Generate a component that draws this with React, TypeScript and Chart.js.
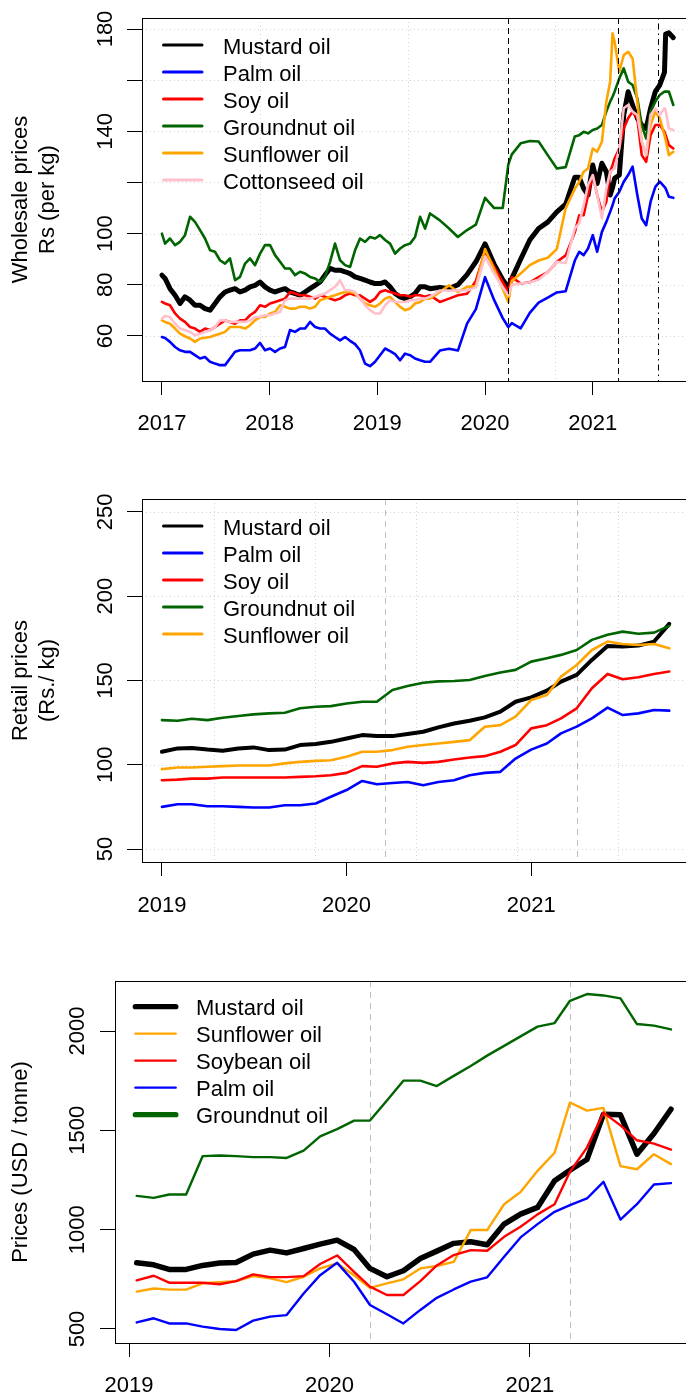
import React, { useEffect, useRef } from "react";
import { Chart, registerables, ChartConfiguration, Plugin } from "chart.js";

Chart.register(...registerables);

const FONT = '"Liberation Sans", Arial, Helvetica, sans-serif';

// ---------- panel 1: wholesale prices, Rs per kg ----------
// 2017 to mid 2019 read at ~17 day steps (decimal years)
const wholesaleEarlyYears = [
  2017.0, 2017.029, 2017.075, 2017.122, 2017.168, 2017.214, 2017.261, 2017.307, 2017.354, 2017.4,
  2017.447, 2017.493, 2017.539, 2017.586, 2017.632, 2017.679, 2017.725, 2017.772, 2017.818, 2017.864,
  2017.911, 2017.957, 2018.004, 2018.05, 2018.097, 2018.143, 2018.189, 2018.236, 2018.282, 2018.329,
  2018.375, 2018.422, 2018.468, 2018.514, 2018.561, 2018.607, 2018.654, 2018.7, 2018.747, 2018.793,
  2018.839, 2018.886, 2018.932, 2018.979, 2019.025, 2019.072, 2019.118, 2019.165, 2019.211, 2019.257,
  2019.304, 2019.35, 2019.397, 2019.443, 2019.489,
];
// then monthly / half monthly dates
const wholesaleDates = [
  "2019-08-01", "2019-09-01", "2019-10-01", "2019-11-01", "2019-12-01",
  "2020-01-01", "2020-02-01", "2020-03-01", "2020-03-20", "2020-04-01", "2020-05-01",
  "2020-06-01", "2020-07-01", "2020-08-01", "2020-09-01", "2020-10-01", "2020-11-01",
  "2020-11-16", "2020-12-01", "2020-12-16", "2021-01-01", "2021-01-16", "2021-02-01",
  "2021-02-16", "2021-03-01", "2021-03-09", "2021-03-16", "2021-04-01", "2021-04-16",
  "2021-05-01", "2021-05-16", "2021-06-01", "2021-06-16", "2021-07-01", "2021-07-16",
  "2021-08-01", "2021-08-16", "2021-09-01", "2021-09-05", "2021-09-16", "2021-10-01",
];
const wholesaleMustard = [
  83.8, 82.5, 78.5, 75.9, 72.7, 75.3, 74, 72, 72, 70.7, 70.1, 72.7, 75.3, 77.2, 77.9, 78.5, 77.2, 77.9, 79.2, 79.8,
  81.1, 79.2, 77.9, 77.2, 77.9, 78.5, 77.2, 76.6, 75.9, 77.2, 78.5, 79.8, 81.1, 83.8, 86.4, 85.7, 85.7, 85.1, 84.4, 83.1,
  82.5, 81.8, 81.1, 80.5, 80.5, 81.1, 79.2, 76.6, 75.3, 74.6, 75.3, 76.6, 79.2, 79.2, 78.5,
  79, 78.5, 80, 84, 89,
  96, 88, 82, 79, 82.5, 90, 97.5, 102, 104.5, 108.5, 111.5, 122,
  122, 117.7, 115.1, 126.8, 119.6, 127.5, 124.2, 115.1, 118, 121.6, 122.9, 146.4,
  155.5, 150.3, 145.1, 142.5, 141.1, 149, 155.5, 158.1, 163, 178, 178.5, 176.6,
];
const wholesalePalm = [
  59.6, 59.2, 57.7, 55.7, 54.4, 53.8, 53.8, 52.5, 51.2, 51.8, 49.9, 49.2, 48.6, 48.6, 51.2, 53.8, 54.4, 54.4, 54.4, 55.1,
  57.3, 54.4, 55.1, 53.8, 55.1, 55.7, 62.3, 61.6, 62.9, 62.9, 65.5, 63.5, 62.9, 62.9, 60.9, 59.6, 58.3, 59.6, 58.1, 56.8,
  54.4, 49.2, 48.2, 49.9, 52.5, 55.1, 54.1, 52.9, 50.5, 53.1, 52.5, 51.2, 50.5, 49.9, 49.9,
  54.3, 55, 54.3, 64.8, 70.5,
  83, 74, 67, 63.5, 65, 63, 69, 73, 75, 77, 77.5, 89.5,
  92.9, 91.6, 94.2, 99.4, 92.9, 100.7, 104.6, 108.5, 111.1, 113.7, 116.4, 120.3,
  122.9, 126.2, 115.1, 105.9, 103.3, 112.5, 118.3, 120.3, 118.3, 117.7, 114.4, 114,
];
const wholesaleSoy = [
  73.3, 72.7, 72, 68.8, 66.8, 65.5, 63.5, 62.9, 61.6, 62.9, 62.3, 63.5, 64.8, 66.1, 65.5, 64.8, 66.1, 66.1, 68.1, 69.4,
  72, 71.4, 72.7, 73.3, 74, 74.6, 77.2, 76.6, 75.9, 75.9, 75.3, 74.6, 75.9, 75.3, 74.6, 74, 74.6, 75.9, 76.6, 75.9,
  75.9, 74.6, 73.3, 74.6, 77.2, 77.9, 77.2, 76.6, 75.9, 75.9, 75.3, 75.9, 75.9, 75.3, 75.9,
  73.3, 74.6, 75.9, 76.5, 81.5,
  93, 87, 81, 77, 83, 80.5, 81, 83, 85, 89, 91.5, 100.5,
  107.2, 107.2, 115.1, 122.9, 115.1, 108.5, 112.5, 124.2, 126.8, 129.4, 133.3, 141.1,
  145.1, 147.7, 145.1, 130.7, 128.1, 138.5, 142.5, 142.5, 139.8, 138.5, 134.6, 133.3,
];
const wholesaleGroundnut = [
  100, 96.1, 98.1, 95.5, 96.8, 99.4, 106.6, 104.6, 101.4, 98.1, 93.5, 92.9, 89.6, 88.3, 90.3, 81.8, 83.1, 88.3, 90.3, 87.7,
  92.2, 95.5, 95.5, 91.6, 89, 86.4, 86.4, 83.8, 85.1, 84.4, 83.1, 82.5, 81.1, 83.1, 89, 96.1, 89.6, 87.7, 87, 93.5,
  98.1, 96.8, 98.7, 98.1, 99.4, 97.5, 96.1, 92.2, 94.2, 95.5, 96.1, 98.7, 106.6, 102, 107.9,
  105.2, 102, 98.7, 101.4, 103.5,
  114, 110, 110, 127, 131, 135.3, 136.2, 136, 130.7, 125.5, 126, 138,
  138.5, 139.8, 139.2, 140.5, 141.1, 142.5, 147.7, 151.6, 153.5, 155.5, 160.7, 164.6,
  159.4, 158.1, 152.9, 142.5, 137.2, 147.7, 151.6, 154.2, 155.5, 155.5, 155.5, 150.3,
];
const wholesaleSunflower = [
  66.1, 65.5, 64.8, 62.9, 60.9, 59.9, 59, 57.7, 59, 59.3, 59.6, 60.3, 60.9, 61.6, 63.5, 63.5, 63.5, 62.9, 64.2, 66.1,
  67.4, 67.4, 68.8, 69.4, 72, 71.4, 70.7, 70.7, 71.4, 71.4, 70.7, 71.4, 74, 74.6, 75.3, 75.9, 76.6, 77.2, 77.2, 76.6,
  74.6, 72.7, 72, 71.4, 72.7, 74.6, 75.3, 73.3, 71.4, 70.1, 70.7, 72.7, 73.3, 74.6, 74.6,
  77.2, 79.8, 77.2, 79.2, 79.5,
  94, 86, 78.5, 73.3, 81.5, 84.4, 87.7, 89.5, 90.6, 94, 110, 117.5,
  120.3, 124.2, 125.5, 133.3, 132, 135.9, 151.6, 159.4, 178.3, 175, 163.3, 169.8,
  171.1, 168.5, 151.6, 136, 130.7, 142.5, 147.7, 145.1, 138.5, 136.6, 130.7, 132,
];
const wholesaleCottonseed = [
  66.8, 67.8, 67.4, 64.8, 62.9, 62.3, 61.6, 60.3, 60.9, 61.6, 62.3, 63.5, 66.1, 66.1, 65.5, 65.5, 65.5, 65.5, 66.1, 67.4,
  67.4, 68.1, 68.1, 68.8, 69.4, 74, 74.6, 74.6, 74.6, 74.6, 74.6, 75.3, 75.9, 76.6, 77.9, 79.2, 81.8, 77.9, 77.9, 77.2,
  74.6, 72, 70.1, 68.8, 68.8, 72, 74, 73.3, 73.3, 73.3, 74, 74, 74.6, 74.6, 75.3,
  77.8, 77.8, 77.8, 77.8, 79,
  91, 84.4, 79, 76, 80, 80.5, 81, 82, 85, 89, 88.5, 102,
  104, 111.1, 119, 122.9, 115.1, 105.9, 117.7, 124.2, 124.8, 125.5, 133.3, 149,
  150.3, 147.7, 146.4, 136, 130.7, 146.4, 149, 146.4, 149, 148.3, 141.1, 140.5,
];
const wholesaleYTicks = [60, 80, 100, 120, 140, 160, 180];
const wholesaleYLabels = [60, 80, 100, 140, 180];
const wholesaleXTicks = [2017, 2018, 2019, 2020, 2021];
const wholesaleGridX = ["2017-11-30", "2019-04-14", "2020-08-26"];
const wholesaleDashed = ["2020-03-18", "2021-03-29"];
const wholesaleDashDot = ["2021-08-10"];

// ---------- panel 2: retail prices, Rs per kg ----------
const retailDates = [
  "2019-01-01", "2019-02-01", "2019-03-01", "2019-04-01", "2019-05-01", "2019-06-01",
  "2019-07-01", "2019-08-01", "2019-09-01", "2019-10-01", "2019-11-01", "2019-12-01",
  "2020-01-01", "2020-02-01", "2020-03-01", "2020-04-01", "2020-05-01", "2020-06-01",
  "2020-07-01", "2020-08-01", "2020-09-01", "2020-10-01", "2020-11-01", "2020-12-01",
  "2021-01-01", "2021-02-01", "2021-03-01", "2021-04-01", "2021-05-01", "2021-06-01",
  "2021-07-01", "2021-08-01", "2021-09-01", "2021-10-01",
];
const retailMustard = [
  107.7, 109.7, 110, 109, 108.3, 109.7, 110.3, 108.7, 109, 111.7, 112.3, 113.6,
  115.6, 117.6, 117, 117, 118.2, 119.6, 122.2, 124.5, 126.1, 128.1, 131.5, 137.4,
  140, 144, 149.3, 153.3, 162.2, 170.5, 170.1, 170.7, 173.1, 183.6,
];
const retailPalm = [
  75, 76.6, 76.6, 75.4, 75.4, 75, 74.6, 74.6, 76, 76, 77, 81,
  85, 90.4, 88.4, 89.2, 89.8, 87.9, 89.8, 90.8, 93.8, 95.2, 95.8, 103.7,
  109, 112.6, 118.6, 122.6, 127.5, 133.9, 129.5, 130.5, 132.5, 132.1,
];
const retailSoy = [
  90.8, 91.2, 91.8, 91.8, 92.4, 92.4, 92.4, 92.4, 92.4, 92.8, 93.2, 93.8,
  95.2, 99.2, 98.8, 100.8, 101.7, 101.1, 101.7, 103.1, 104.3, 105.1, 107.7, 111.7,
  121.6, 123.5, 127.5, 133.5, 145.4, 153.9, 150.7, 151.9, 153.9, 155.3,
];
const retailGroundnut = [
  126.5, 126.1, 127.3, 126.5, 127.9, 128.9, 129.9, 130.5, 130.9, 133.5, 134.4, 134.8,
  136.4, 137.4, 137.4, 144.4, 146.7, 148.7, 149.5, 149.7, 150.3, 152.7, 154.7, 156.3,
  161.2, 163.2, 165.2, 168.1, 174.1, 177.1, 179, 177.7, 178.4, 182.4,
];
const retailSunflower = [
  97.4, 98.4, 98.4, 98.8, 99.2, 99.6, 99.6, 99.6, 100.8, 101.7, 102.3, 102.7,
  104.7, 107.7, 107.7, 108.7, 110.7, 111.7, 112.6, 113.6, 114.6, 122.6, 123.5, 128.5,
  138.4, 141.4, 152.3, 159.2, 168.1, 173.1, 171.7, 171.1, 171.7, 169.1,
];
const retailYTicks = [50, 100, 150, 200, 250];
const retailXTicks = [2019, 2020, 2021];
const retailGridX = ["2019-04-14", "2019-10-31", "2020-05-18", "2020-12-04", "2021-06-22"];
const retailDashed = ["2020-03-18", "2021-04-01"];

// ---------- panel 3: international prices, USD per tonne ----------
const usdDates = [
  "2019-01-15", "2019-02-15", "2019-03-15", "2019-04-15", "2019-05-15", "2019-06-15",
  "2019-07-15", "2019-08-15", "2019-09-15", "2019-10-15", "2019-11-15", "2019-12-15",
  "2020-01-15", "2020-02-15", "2020-03-15", "2020-04-15", "2020-05-15", "2020-06-15",
  "2020-07-15", "2020-08-15", "2020-09-15", "2020-10-15", "2020-11-15", "2020-12-15",
  "2021-01-15", "2021-02-15", "2021-03-15", "2021-04-15", "2021-05-15", "2021-06-15",
  "2021-07-15", "2021-08-15", "2021-09-15",
];
const usdMustard = [
  833, 823, 800, 800, 820, 832, 835, 877, 897, 883, 905, 927,
  947, 900, 805, 763, 793, 855, 892, 931, 939, 924, 1028, 1078,
  1112, 1246, 1299, 1353, 1581, 1578, 1380, 1484, 1606,
];
const usdSunflower = [
  688, 704, 698, 698, 730, 736, 741, 766, 755, 736, 763, 805,
  830, 770, 707, 730, 750, 805, 817, 838, 998, 998, 1128, 1190,
  1296, 1387, 1640, 1599, 1613, 1320, 1304, 1380, 1330,
];
const usdSoybean = [
  745, 768, 733, 733, 733, 725, 741, 775, 761, 761, 766, 827,
  870, 788, 713, 671, 671, 741, 820, 872, 897, 894, 964, 1015,
  1077, 1128, 1291, 1413, 1589, 1525, 1450, 1433, 1403,
];
const usdPalm = [
  533, 554, 528, 528, 512, 500, 495, 542, 562, 570, 679, 771,
  833, 738, 621, 574, 528, 596, 657, 699, 738, 760, 864, 961,
  1028, 1090, 1123, 1157, 1241, 1051, 1128, 1227, 1234,
];
const usdGroundnut = [
  1170, 1160, 1177, 1177, 1370, 1373, 1370, 1365, 1365, 1361, 1398, 1470,
  1506, 1549, 1549, 1650, 1750, 1750, 1723, 1774, 1824, 1876, 1925, 1973,
  2022, 2040, 2152, 2186, 2179, 2164, 2035, 2027, 2008,
];
const usdYTicks = [500, 1000, 1500, 2000];
const usdXTicks = [2019, 2020, 2021];
const usdDashed = ["2020-03-15", "2021-03-15"];

// decimal year from an ISO date string
function toYear(s: string): number {
  const [y, m, d] = s.split("-").map(Number);
  const start = Date.UTC(y, 0, 1);
  const end = Date.UTC(y + 1, 0, 1);
  return y + (Date.UTC(y, m - 1, d) - start) / (end - start);
}

const wholesaleX = [...wholesaleEarlyYears, ...wholesaleDates.map(toYear)];
const retailX = retailDates.map(toYear);
const usdX = usdDates.map(toYear);

type Series = {
  label: string;
  x: number[];
  values: number[];
  color: string;
  width: number;
  legendWidth: number;
};

type RefLine = { date: string; color: string; dash: number[]; over: boolean };

type Panel = {
  top: number;
  height: number;
  area: { left: number; top: number; right: number; bottom: number };
  xMin: number;
  xMax: number;
  yMin: number;
  yMax: number;
  xTicks: number[];
  yTicks: number[];
  yLabels: number[];
  title: string[];
  series: Series[];
  hGrid: number[];
  vGrid: string[];
  refLines: RefLine[];
  legend: { x1: number; x2: number; textX: number; y0: number; step: number };
  xLabelBase: number;
  yLabelBase: number;
};

const CANVAS_W = 720;

const panels: Panel[] = [
  {
    top: 0,
    height: 470,
    area: { left: 142, top: 18, right: 694, bottom: 381 },
    xMin: 2016.815,
    xMax: 2021.94,
    yMin: 42.4,
    yMax: 184.3,
    xTicks: wholesaleXTicks,
    yTicks: wholesaleYTicks,
    yLabels: wholesaleYLabels,
    title: ["Wholesale prices", "Rs (per kg)"],
    series: [
      { label: "Mustard oil", x: wholesaleX, values: wholesaleMustard, color: "#000000", width: 5, legendWidth: 3 },
      { label: "Palm oil", x: wholesaleX, values: wholesalePalm, color: "#0000FF", width: 2.6, legendWidth: 3 },
      { label: "Soy oil", x: wholesaleX, values: wholesaleSoy, color: "#FF0000", width: 2.6, legendWidth: 3 },
      { label: "Groundnut oil", x: wholesaleX, values: wholesaleGroundnut, color: "#006400", width: 2.6, legendWidth: 3 },
      { label: "Sunflower oil", x: wholesaleX, values: wholesaleSunflower, color: "#FFA500", width: 2.6, legendWidth: 3 },
      { label: "Cottonseed oil", x: wholesaleX, values: wholesaleCottonseed, color: "#FFC0CB", width: 2.6, legendWidth: 3 },
    ],
    hGrid: wholesaleYTicks,
    vGrid: wholesaleGridX,
    refLines: [
      ...wholesaleDashed.map((d) => ({ date: d, color: "#000000", dash: [6, 4], over: true })),
      ...wholesaleDashDot.map((d) => ({ date: d, color: "#000000", dash: [1.5, 4, 6, 4], over: true })),
    ],
    legend: { x1: 163.5, x2: 202, textX: 223, y0: 45, step: 27 },
    xLabelBase: 430,
    yLabelBase: 112,
  },
  {
    top: 470,
    height: 480,
    area: { left: 142, top: 29, right: 694, bottom: 392 },
    xMin: 2018.892,
    xMax: 2021.882,
    yMin: 42.3,
    yMax: 257.7,
    xTicks: retailXTicks,
    yTicks: retailYTicks,
    yLabels: retailYTicks,
    title: ["Retail prices", "(Rs./ kg)"],
    series: [
      { label: "Mustard oil", x: retailX, values: retailMustard, color: "#000000", width: 4, legendWidth: 3 },
      { label: "Palm oil", x: retailX, values: retailPalm, color: "#0000FF", width: 2.6, legendWidth: 3 },
      { label: "Soy oil", x: retailX, values: retailSoy, color: "#FF0000", width: 2.6, legendWidth: 3 },
      { label: "Groundnut oil", x: retailX, values: retailGroundnut, color: "#006400", width: 2.6, legendWidth: 3 },
      { label: "Sunflower oil", x: retailX, values: retailSunflower, color: "#FFA500", width: 2.6, legendWidth: 3 },
    ],
    hGrid: retailYTicks,
    vGrid: retailGridX,
    refLines: retailDashed.map((d) => ({ date: d, color: "#BEBEBE", dash: [6, 5], over: false })),
    legend: { x1: 163.5, x2: 202, textX: 223, y0: 56, step: 27 },
    xLabelBase: 442,
    yLabelBase: 112,
  },
  {
    top: 950,
    height: 445,
    area: { left: 115, top: 31, right: 693, bottom: 393 },
    xMin: 2018.93,
    xMax: 2021.814,
    yMin: 429.5,
    yMax: 2251.7,
    xTicks: usdXTicks,
    yTicks: usdYTicks,
    yLabels: usdYTicks,
    title: ["Prices (USD / tonne)"],
    series: [
      { label: "Mustard oil", x: usdX, values: usdMustard, color: "#000000", width: 5.5, legendWidth: 5.3 },
      { label: "Sunflower oil", x: usdX, values: usdSunflower, color: "#FFA500", width: 2.4, legendWidth: 2.2 },
      { label: "Soybean oil", x: usdX, values: usdSoybean, color: "#FF0000", width: 2.4, legendWidth: 2.2 },
      { label: "Palm oil", x: usdX, values: usdPalm, color: "#0000FF", width: 2.4, legendWidth: 2.2 },
      { label: "Groundnut oil", x: usdX, values: usdGroundnut, color: "#006400", width: 2.4, legendWidth: 5.3 },
    ],
    hGrid: [],
    vGrid: [],
    refLines: usdDashed.map((d) => ({ date: d, color: "#BEBEBE", dash: [6, 5], over: false })),
    legend: { x1: 135.3, x2: 175.8, textX: 196, y0: 56.7, step: 27 },
    xLabelBase: 442,
    yLabelBase: 84,
  },
];

function makeDecor(p: Panel): Plugin<"line"> {
  const vline = (ctx: CanvasRenderingContext2D, px: number, top: number, bottom: number) => {
    ctx.beginPath();
    ctx.moveTo(px, top);
    ctx.lineTo(px, bottom);
    ctx.stroke();
  };
  const refs = (chart: Chart<"line">, over: boolean) => {
    const { ctx, chartArea: a } = chart;
    const xs = chart.scales.x;
    ctx.save();
    ctx.lineWidth = 1;
    for (const r of p.refLines.filter((l) => l.over === over)) {
      ctx.strokeStyle = r.color;
      ctx.setLineDash(r.dash);
      vline(ctx, Math.round(xs.getPixelForValue(toYear(r.date))) + 0.5, a.top, a.bottom);
    }
    ctx.restore();
  };
  return {
    id: "rDecor",
    beforeDatasetsDraw(chart) {
      const { ctx, chartArea: a } = chart;
      const xs = chart.scales.x;
      const ys = chart.scales.y;
      ctx.save();
      ctx.strokeStyle = "#D3D3D3";
      ctx.lineWidth = 1;
      ctx.setLineDash([1, 3]);
      for (const v of p.hGrid) {
        const py = Math.round(ys.getPixelForValue(v)) + 0.5;
        ctx.beginPath();
        ctx.moveTo(a.left, py);
        ctx.lineTo(a.right, py);
        ctx.stroke();
      }
      for (const d of p.vGrid) {
        vline(ctx, Math.round(xs.getPixelForValue(toYear(d))) + 0.5, a.top, a.bottom);
      }
      ctx.restore();
      refs(chart, false);
    },
    afterDatasetsDraw(chart) {
      const { ctx, chartArea: a } = chart;
      const xs = chart.scales.x;
      const ys = chart.scales.y;
      refs(chart, true);

      ctx.save();
      // plot box
      ctx.strokeStyle = "#000";
      ctx.lineWidth = 1;
      ctx.setLineDash([]);
      ctx.strokeRect(Math.round(a.left) + 0.5, Math.round(a.top) + 0.5, Math.round(a.right - a.left), Math.round(a.bottom - a.top));

      ctx.fillStyle = "#000";
      ctx.font = `22px ${FONT}`;
      ctx.textBaseline = "alphabetic";

      // x tick labels
      ctx.textAlign = "center";
      for (const v of p.xTicks) {
        ctx.fillText(String(v), xs.getPixelForValue(v), p.xLabelBase);
      }
      // y tick labels, turned like R's las = 0
      for (const v of p.yLabels) {
        ctx.save();
        ctx.translate(p.yLabelBase, ys.getPixelForValue(v));
        ctx.rotate(-Math.PI / 2);
        ctx.fillText(String(v), 0, 0);
        ctx.restore();
      }

      // legend (no box)
      ctx.textAlign = "left";
      p.series.forEach((s, i) => {
        const y = p.legend.y0 + i * p.legend.step;
        ctx.strokeStyle = s.color;
        ctx.lineWidth = s.legendWidth;
        ctx.lineCap = "round";
        ctx.beginPath();
        ctx.moveTo(p.legend.x1, y);
        ctx.lineTo(p.legend.x2, y);
        ctx.stroke();
        ctx.fillStyle = "#000";
        ctx.fillText(s.label, p.legend.textX, y + 8.7);
      });
      ctx.restore();
    },
  };
}

function buildConfig(p: Panel): ChartConfiguration<"line"> {
  const n = p.series.length;
  return {
    type: "line",
    data: {
      datasets: p.series.map((s, i) => ({
        label: s.label,
        data: s.x.map((x, j) => ({ x, y: s.values[j] })),
        borderColor: s.color,
        backgroundColor: s.color,
        borderWidth: s.width,
        pointRadius: 0,
        tension: 0,
        fill: false,
        borderJoinStyle: "round",
        borderCapStyle: "round",
        order: n - i,
      })),
    },
    options: {
      animation: false,
      responsive: false,
      maintainAspectRatio: false,
      events: [],
      layout: {
        padding: { left: 0, top: p.area.top, right: CANVAS_W - p.area.right, bottom: 0 },
      },
      plugins: {
        legend: { display: false },
        tooltip: { enabled: false },
        title: { display: false },
      },
      scales: {
        x: {
          type: "linear",
          position: "bottom",
          min: p.xMin,
          max: p.xMax,
          afterBuildTicks: (scale) => {
            scale.ticks = p.xTicks.map((v) => ({ value: v }));
          },
          afterFit: (scale) => {
            scale.height = p.height - p.area.bottom;
          },
          ticks: { display: false },
          grid: {
            display: true,
            drawOnChartArea: false,
            drawTicks: true,
            tickLength: 14,
            tickColor: "#000",
            tickWidth: 1,
          },
          border: { display: false },
        },
        y: {
          type: "linear",
          position: "left",
          min: p.yMin,
          max: p.yMax,
          afterBuildTicks: (scale) => {
            scale.ticks = p.yTicks.map((v) => ({ value: v }));
          },
          afterFit: (scale) => {
            scale.width = p.area.left;
          },
          ticks: { display: false },
          grid: {
            display: true,
            drawOnChartArea: false,
            drawTicks: true,
            tickLength: 15,
            tickColor: "#000",
            tickWidth: 1,
          },
          border: { display: false },
          title: {
            display: true,
            text: p.title,
            color: "#000",
            font: { family: FONT, size: 22, lineHeight: 1.2 },
            padding: { top: 8, bottom: 0 },
          },
        },
      },
    },
    plugins: [makeDecor(p)],
  };
}

const PanelChart: React.FC<{ panel: Panel }> = ({ panel }) => {
  const canvasRef = useRef<HTMLCanvasElement | null>(null);

  useEffect(() => {
    if (!canvasRef.current) return;
    const chart = new Chart(canvasRef.current, buildConfig(panel));
    return () => {
      chart.destroy();
    };
  }, [panel]);

  return (
    <canvas
      ref={canvasRef}
      width={CANVAS_W}
      height={panel.height}
      style={{ position: "absolute", left: 0, top: panel.top, width: CANVAS_W, height: panel.height }}
    />
  );
};

export default function App() {
  return (
    <div
      style={{
        position: "absolute",
        left: 0,
        top: 0,
        width: 686,
        height: 1395,
        overflow: "hidden",
        background: "#fff",
      }}
    >
      {panels.map((p, i) => (
        <PanelChart key={i} panel={p} />
      ))}
    </div>
  );
}
